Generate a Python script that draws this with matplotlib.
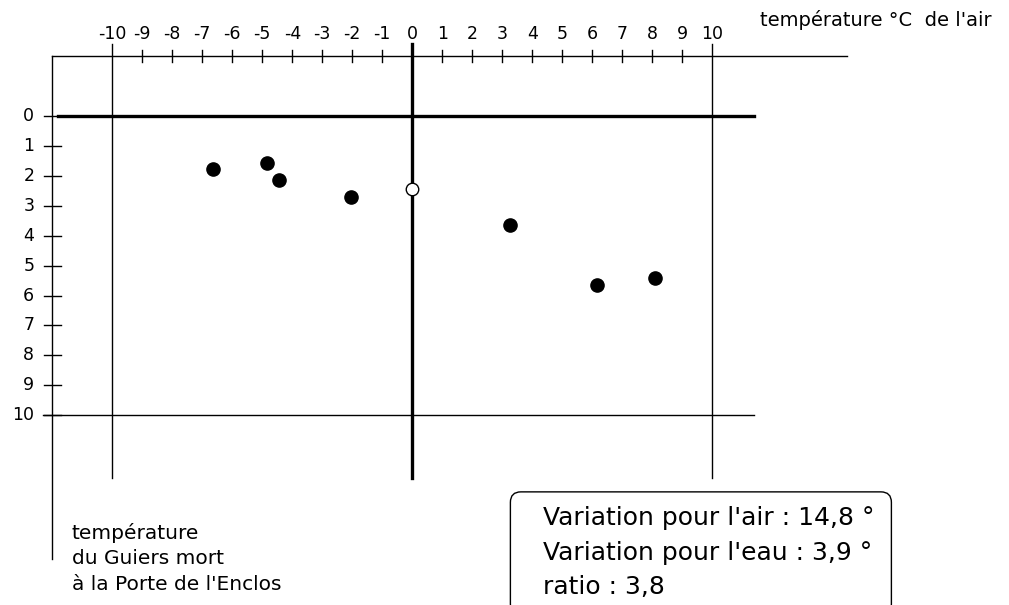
import matplotlib
matplotlib.use("Agg")
import matplotlib.pyplot as plt
from matplotlib.patches import FancyBboxPatch

# air temperature (x) vs water temperature (y)
air_temp = [-6.65, -4.85, -4.45, -2.05, 3.25, 6.15, 8.1]
water_temp = [1.78, 1.56, 2.14, 2.72, 3.65, 5.64, 5.42]
ref_point = (0.0, 2.43)  # open circle

x_ticks = list(range(-10, 11))
y_ticks = list(range(0, 11))

box_lines = ["Variation pour l'air : 14,8 °",
             "Variation pour l'eau : 3,9 °",
             "ratio : 3,8"]
water_label = ["température", "du Guiers mort", "à la Porte de l'Enclos"]

fig = plt.figure(figsize=(10.09, 6.05), dpi=100)
ax = fig.add_axes([0, 0, 1, 1])
# 30 px per degree, origin at pixel (412, 116)
ax.set_xlim(-13.743, 19.89)
ax.set_ylim(16.34, -3.876)
ax.axis("off")

k = "black"
thin = 1.0
thick = 2.4

# frame lines
ax.plot([-12, 14.5], [-2, -2], color=k, lw=thin)          # top axis
ax.plot([-12, -12], [-2, 14.8], color=k, lw=thin)         # left axis
ax.plot([-11.8, 11.4], [0, 0], color=k, lw=thick)         # water 0
ax.plot([-12.3, 11.4], [10, 10], color=k, lw=thin)        # water 10
ax.plot([-10, -10], [-2.4, 12.1], color=k, lw=thin)
ax.plot([10, 10], [-2.4, 12.1], color=k, lw=thin)
ax.plot([0, 0], [-2.4, 12.1], color=k, lw=thick)

# ticks + labels on the air axis
for t in x_ticks:
    if t % 10:
        ax.plot([t, t], [-2.2, -1.8], color=k, lw=thin)
    ax.text(t, -2.75, str(t), ha="center", va="center", fontsize=12.5)

# ticks + labels on the water axis
for t in y_ticks:
    ax.plot([-12.28, -11.7], [t, t], color=k, lw=thin)
    ax.text(-12.6, t, str(t), ha="right", va="center", fontsize=12.5)

ax.text(11.6, -3.2, "température °C  de l'air", ha="left", va="center",
        fontsize=14)
ax.text(-11.35, 14.78, "\n".join(water_label), ha="left", va="center",
        fontsize=14.5, linespacing=1.45)

# data
ax.plot(air_temp, water_temp, "o", color=k, ms=9.5, zorder=5)
ax.plot(*ref_point, "o", mfc="white", mec=k, mew=1.0, ms=9, zorder=6)

# info box (bottom runs off the page)
box = FancyBboxPatch((3.27, 12.56), 12.7, 4.1,
                     boxstyle="round,pad=0,rounding_size=0.35",
                     fc="white", ec=k, lw=thin, clip_on=True)
ax.add_patch(box)
ax.text(4.35, 14.6, "\n".join(box_lines), ha="left", va="center",
        fontsize=18, linespacing=1.55)

fig.savefig("out.png", dpi=100)
